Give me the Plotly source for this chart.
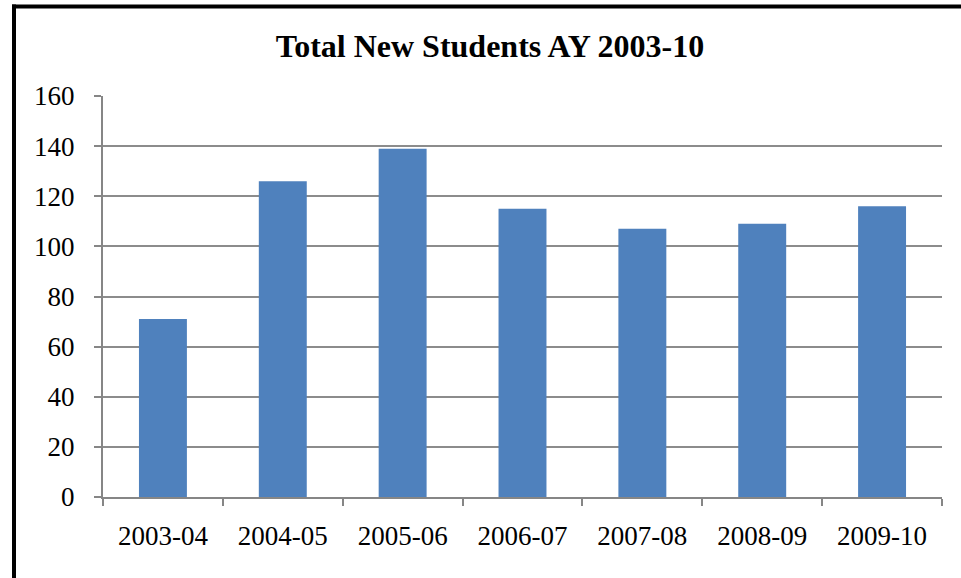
import plotly.graph_objects as go

years = ["2003-04", "2004-05", "2005-06", "2006-07", "2007-08", "2008-09", "2009-10"]
new_students = [71, 126, 139, 115, 107, 109, 116]
y_ticks = [0, 20, 40, 60, 80, 100, 120, 140, 160]

W, H = 961, 578
L, R, T, B = 103, 19, 96, 81
pw, ph = W - L - R, H - T - B

def px_x(x):
    return (x - L) / pw

def px_y(y):
    return (H - B - y) / ph

fig = go.Figure(go.Bar(
    x=years, y=new_students,
    marker=dict(color="#4F81BD", line=dict(width=0)),
))

fig.update_layout(
    width=W, height=H,
    margin=dict(l=L, r=R, t=T, b=B),
    paper_bgcolor="white", plot_bgcolor="white",
    bargap=0.6,
    showlegend=False,
    font=dict(family="Liberation Serif, Times New Roman, serif", color="black", size=27),
    title=dict(text="<b>Total New Students AY 2003-10</b>", x=490 / W, xanchor="center",
               y=1 - 46 / H, yanchor="middle", font=dict(size=32, color="black")),
    xaxis=dict(type="category", tickson="boundaries", ticks="outside", ticklen=7,
               tickwidth=2, tickcolor="#868686", showline=True, linecolor="#868686",
               linewidth=2, showgrid=False, ticklabelstandoff=14,
               tickfont=dict(size=27)),
    yaxis=dict(range=[0, 160], tickvals=y_ticks, ticks="outside", ticklen=7,
               tickwidth=2, tickcolor="#868686", showline=True, linecolor="#868686",
               linewidth=2, showgrid=True, gridcolor="#8C8C8C", gridwidth=1.5,
               zeroline=False, ticklabelstandoff=14, tickfont=dict(size=27)),
    shapes=[
        dict(type="line", xref="paper", yref="paper",
             x0=px_x(12), x1=px_x(W + 10), y0=px_y(6.5), y1=px_y(6.5),
             line=dict(color="black", width=4)),
        dict(type="line", xref="paper", yref="paper",
             x0=px_x(14), x1=px_x(14), y0=px_y(4.5), y1=px_y(H + 10),
             line=dict(color="black", width=4)),
    ],
)

fig.write_html("out.html", config={"displayModeBar": False},
               post_script="document.body.style.margin='0';document.body.style.overflow='hidden';")
